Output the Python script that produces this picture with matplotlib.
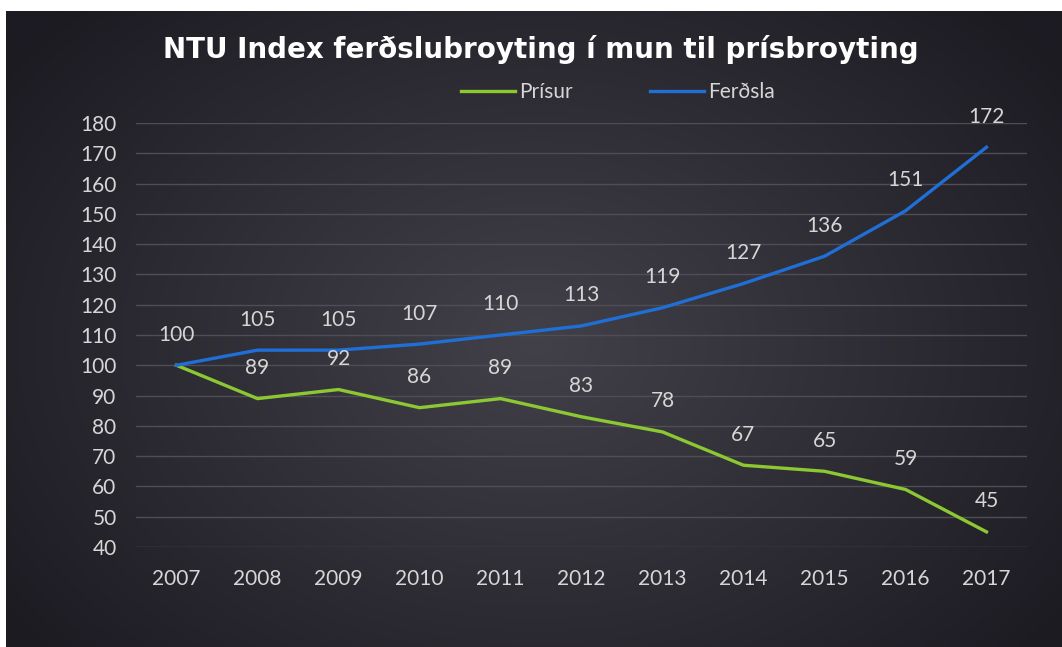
import numpy as np
import matplotlib
matplotlib.use("Agg")
import matplotlib.pyplot as plt

aar = [2007, 2008, 2009, 2010, 2011, 2012, 2013, 2014, 2015, 2016, 2017]
prisur = [100, 89, 92, 86, 89, 83, 78, 67, 65, 59, 45]
ferdsla = [100, 105, 105, 107, 110, 113, 119, 127, 136, 151, 172]
y_ticks = list(range(40, 181, 10))

gronur = "#8cc832"
blaur = "#1f6fd6"
tekst = "#d6d6d6"

fig = plt.figure(figsize=(10.62, 6.47), dpi=100, facecolor="white")

# bakgrund: radial gradient
bg = fig.add_axes([6 / 1062, 0, 1 - 6 / 1062, 1 - 11 / 647])
bg.set_axis_off()
h, w = 300, 500
yy, xx = np.mgrid[0:h, 0:w]
d = np.sqrt(((xx - w * 0.5) / (w * 0.62)) ** 2 + ((yy - h * 0.52) / (h * 0.75)) ** 2)
d = np.clip(d, 0, 1)
inni = np.array([0x42, 0x41, 0x49]) / 255
uti = np.array([0x1c, 0x1b, 0x22]) / 255
img = inni[None, None, :] * (1 - d[..., None]) + uti[None, None, :] * d[..., None]
bg.imshow(img, aspect="auto", extent=[0, 1, 0, 1])
bg.set_xlim(0, 1)
bg.set_ylim(0, 1)

ax = fig.add_axes([136 / 1062, 100 / 647, 891 / 1062, 424 / 647])
ax.patch.set_alpha(0)
ax.plot(aar, prisur, color=gronur, lw=2.4, label="Prísur", zorder=3)
ax.plot(aar, ferdsla, color=blaur, lw=2.4, label="Ferðsla", zorder=3)

for x, v in zip(aar, prisur):
    if x == 2007:
        continue
    ax.annotate(str(v), (x, v), xytext=(0, 22), textcoords="offset points",
                ha="center", va="center", color=tekst, fontsize=15, family="Lato")
for x, v in zip(aar, ferdsla):
    ax.annotate(str(v), (x, v), xytext=(0, 22), textcoords="offset points",
                ha="center", va="center", color=tekst, fontsize=15, family="Lato")

ax.set_xlim(2006.5, 2017.5)
ax.set_ylim(40, 180)
ax.set_xticks(aar)
ax.set_xticklabels([str(a) for a in aar])
ax.set_yticks(y_ticks)
ax.grid(axis="y", color="#4f4e56", lw=1.0, zorder=1)
ax.tick_params(length=0, colors=tekst, labelsize=15)
ax.tick_params(axis="y", pad=14)
ax.tick_params(axis="x", pad=16)
for lab in ax.get_xticklabels() + ax.get_yticklabels():
    lab.set_family("Lato")
for s in ax.spines.values():
    s.set_visible(False)

fig.text(541 / 1062, 1 - 49 / 647, "NTU Index ferðslubroyting í mun til prísbroyting",
         ha="center", va="center", color="white", fontsize=20,
         fontweight="bold", family="DejaVu Sans")

leg = ax.legend(loc="center", bbox_to_anchor=((618 - 136) / 891, 1 + 31 / 424), ncol=2,
                frameon=False, handlelength=2.6, handletextpad=0.2,
                columnspacing=3.7, labelcolor=tekst, prop={"family": "Lato", "size": 15})

fig.savefig("out.png", dpi=100, facecolor=fig.get_facecolor())
